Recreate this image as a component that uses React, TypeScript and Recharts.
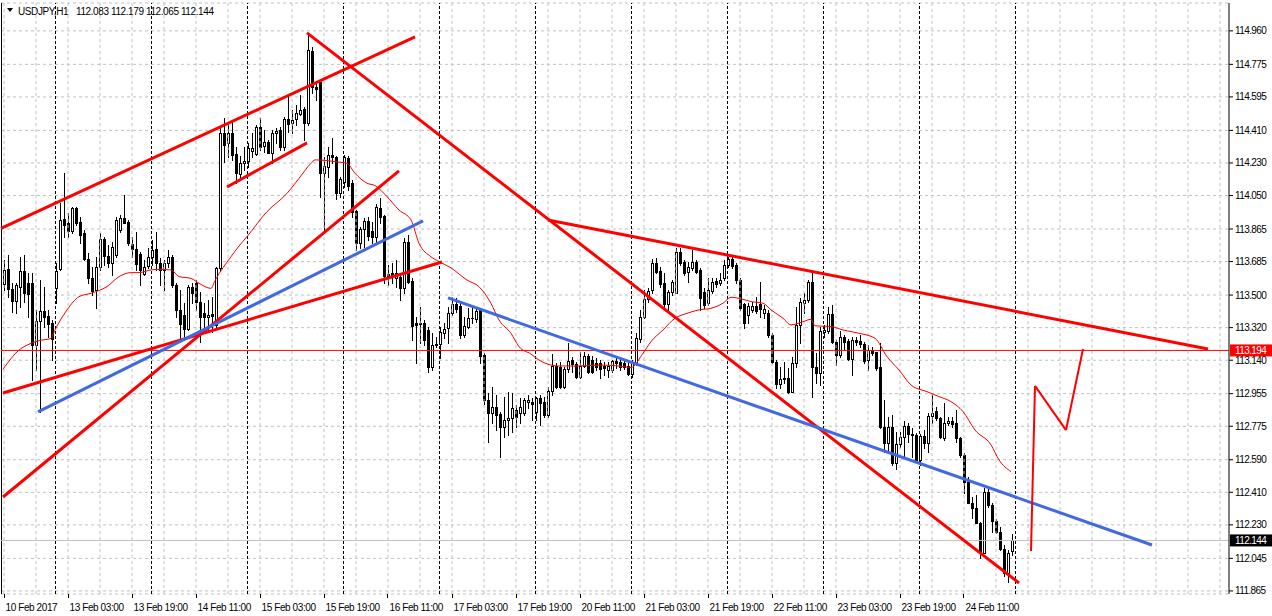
import React from 'react';
import {
  ComposedChart,
  Bar,
  Line,
  XAxis,
  YAxis,
  CartesianGrid,
  ReferenceLine,
} from 'recharts';

// USDJPY H1, one value per hourly bar starting 10 Feb 2017 11:00
const opens = [
  113.559, 113.642, 113.532, 113.469, 113.547, 113.635, 113.565, 113.565, 113.224, 113.357,
  113.412, 113.384, 113.344, 113.537, 113.642, 113.918, 113.896, 113.854, 113.980, 113.906,
  113.841, 113.697, 113.592, 113.528, 113.657, 113.808, 113.716, 113.676, 113.721, 113.860,
  113.924, 113.906, 113.782, 113.753, 113.727, 113.617, 113.662, 113.712, 113.753, 113.676,
  113.639, 113.676, 113.709, 113.556, 113.418, 113.390, 113.312, 113.547, 113.565, 113.464,
  113.403, 113.377, 113.396, 113.334, 113.650, 114.394, 114.339, 114.394, 114.280, 114.169,
  114.232, 114.243, 114.298, 114.280, 114.431, 114.326, 114.344, 114.283, 114.394, 114.412,
  114.320, 114.471, 114.453, 114.471, 114.501, 114.528, 114.453, 114.851, 114.648, 114.679,
  114.177, 114.206, 114.272, 114.261, 114.066, 114.127, 114.259, 114.121, 113.965, 113.790,
  113.863, 113.909, 113.854, 113.819, 113.979, 113.937, 113.615, 113.620, 113.592, 113.598,
  113.541, 113.791, 113.580, 113.344, 113.346, 113.346, 113.307, 113.104, 113.230, 113.227,
  113.288, 113.316, 113.399, 113.450, 113.439, 113.279, 113.325, 113.371, 113.366, 113.417,
  113.168, 112.920, 112.846, 112.883, 112.840, 112.769, 112.809, 112.818, 112.865, 112.846,
  112.846, 112.911, 112.909, 112.855, 112.929, 112.911, 112.837, 112.970, 113.108, 113.100,
  112.994, 113.089, 113.141, 113.119, 113.049, 113.108, 113.163, 113.141, 113.126, 113.122,
  113.108, 113.086, 113.086, 113.135, 113.128, 113.122, 113.108, 113.064, 113.127, 113.256,
  113.381, 113.477, 113.528, 113.676, 113.635, 113.565, 113.451, 113.519, 113.514, 113.740,
  113.685, 113.630, 113.648, 113.685, 113.639, 113.519, 113.455, 113.525, 113.580, 113.565,
  113.597, 113.667, 113.698, 113.667, 113.584, 113.451, 113.390, 113.418, 113.440, 113.451,
  113.399, 113.399, 113.280, 113.132, 113.009, 113.035, 113.040, 112.967, 113.123, 113.335,
  113.458, 113.473, 113.574, 113.101, 113.068, 113.298, 113.302, 113.396, 113.243, 113.169,
  113.267, 113.248, 113.149, 113.252, 113.246, 113.228, 113.141, 113.197, 113.187, 113.101,
  112.773, 112.684, 112.773, 112.570, 112.677, 112.718, 112.777, 112.732, 112.727, 112.589,
  112.721, 112.684, 112.832, 112.861, 112.819, 112.708, 112.791, 112.806, 112.791, 112.708,
  112.616, 112.469, 112.353, 112.321, 112.239, 112.076, 112.414, 112.340, 112.253, 112.193,
  112.095, 111.962, 112.083,
];

const highs = [
  113.694, 113.721, 113.565, 113.565, 113.712, 113.721, 113.620, 113.620, 113.418, 113.583,
  113.547, 113.418, 113.362, 113.676, 114.007, 114.173, 113.952, 113.989, 113.989, 113.933,
  113.860, 113.731, 113.657, 113.712, 113.841, 113.823, 113.777, 113.795, 113.933, 113.943,
  114.053, 113.915, 113.823, 113.851, 113.740, 113.694, 113.758, 113.804, 113.851, 113.703,
  113.694, 113.749, 113.721, 113.565, 113.528, 113.454, 113.556, 113.565, 113.583, 113.519,
  113.454, 113.473, 113.491, 113.655, 114.429, 114.477, 114.458, 114.468, 114.320, 114.269,
  114.320, 114.339, 114.394, 114.440, 114.477, 114.412, 114.357, 114.412, 114.422, 114.431,
  114.482, 114.606, 114.523, 114.550, 114.606, 114.541, 114.947, 114.873, 114.670, 114.689,
  114.265, 114.320, 114.366, 114.269, 114.154, 114.274, 114.269, 114.136, 113.970, 113.878,
  113.924, 113.933, 113.906, 114.003, 114.035, 113.942, 113.666, 113.675, 113.694, 113.620,
  113.814, 113.832, 113.592, 113.381, 113.436, 113.362, 113.325, 113.288, 113.270, 113.325,
  113.344, 113.436, 113.491, 113.482, 113.454, 113.380, 113.426, 113.436, 113.436, 113.426,
  113.178, 112.957, 112.994, 112.948, 112.855, 112.938, 112.966, 112.957, 112.892, 112.929,
  112.929, 112.948, 112.929, 112.938, 112.948, 112.938, 112.994, 113.174, 113.122, 113.131,
  113.104, 113.233, 113.159, 113.131, 113.187, 113.187, 113.174, 113.163, 113.150, 113.141,
  113.131, 113.131, 113.141, 113.150, 113.145, 113.141, 113.131, 113.141, 113.289, 113.418,
  113.528, 113.538, 113.698, 113.703, 113.657, 113.620, 113.528, 113.583, 113.759, 113.759,
  113.694, 113.685, 113.750, 113.694, 113.648, 113.537, 113.593, 113.593, 113.593, 113.620,
  113.694, 113.713, 113.713, 113.676, 113.593, 113.455, 113.455, 113.464, 113.492, 113.574,
  113.445, 113.418, 113.289, 113.141, 113.105, 113.132, 113.095, 113.160, 113.436, 113.482,
  113.510, 113.583, 113.639, 113.178, 113.326, 113.335, 113.436, 113.445, 113.252, 113.303,
  113.279, 113.256, 113.267, 113.267, 113.279, 113.243, 113.224, 113.215, 113.187, 113.233,
  112.920, 112.828, 112.837, 112.745, 112.745, 112.806, 112.795, 112.764, 112.736, 112.732,
  112.754, 112.847, 112.948, 112.883, 112.828, 112.902, 112.828, 112.828, 112.865, 112.718,
  112.626, 112.496, 112.386, 112.395, 112.248, 112.432, 112.427, 112.349, 112.261, 112.220,
  112.119, 112.091, 112.179,
];

const lows = [
  113.528, 113.491, 113.408, 113.399, 113.436, 113.464, 113.381, 113.031, 113.086, 112.854,
  113.325, 113.270, 113.141, 113.454, 113.639, 113.823, 113.823, 113.841, 113.887, 113.786,
  113.694, 113.565, 113.500, 113.427, 113.639, 113.666, 113.657, 113.611, 113.712, 113.851,
  113.897, 113.777, 113.712, 113.639, 113.556, 113.611, 113.648, 113.666, 113.639, 113.556,
  113.528, 113.657, 113.547, 113.381, 113.252, 113.252, 113.307, 113.454, 113.418, 113.243,
  113.307, 113.298, 113.297, 113.322, 113.639, 114.237, 114.265, 114.246, 114.118, 114.145,
  114.191, 114.210, 114.265, 114.274, 114.302, 114.293, 114.283, 114.228, 114.339, 114.302,
  114.302, 114.403, 114.394, 114.440, 114.495, 114.357, 114.440, 114.615, 114.578, 114.044,
  113.860, 114.154, 114.228, 114.029, 114.044, 114.099, 114.081, 113.933, 113.749, 113.758,
  113.767, 113.804, 113.786, 113.786, 113.896, 113.565, 113.556, 113.565, 113.546, 113.473,
  113.510, 113.565, 113.252, 113.123, 113.233, 113.224, 113.077, 113.086, 113.215, 113.150,
  113.261, 113.233, 113.390, 113.408, 113.261, 113.270, 113.316, 113.344, 113.353, 113.122,
  112.898, 112.689, 112.791, 112.754, 112.607, 112.717, 112.726, 112.745, 112.772, 112.791,
  112.837, 112.874, 112.809, 112.809, 112.782, 112.828, 112.828, 112.948, 112.984, 112.984,
  112.984, 113.076, 113.076, 113.040, 113.040, 113.100, 113.071, 113.067, 113.086, 113.040,
  113.058, 113.049, 113.076, 113.095, 113.086, 113.089, 113.058, 113.049, 113.114, 113.243,
  113.372, 113.464, 113.510, 113.620, 113.547, 113.436, 113.418, 113.501, 113.510, 113.667,
  113.611, 113.574, 113.639, 113.620, 113.418, 113.427, 113.445, 113.510, 113.547, 113.556,
  113.584, 113.657, 113.648, 113.565, 113.418, 113.317, 113.344, 113.409, 113.399, 113.381,
  113.372, 113.270, 113.123, 112.985, 112.985, 113.013, 112.957, 112.967, 113.105, 113.233,
  113.399, 113.464, 112.939, 113.012, 113.003, 113.270, 113.289, 113.233, 113.114, 113.160,
  113.197, 113.141, 113.058, 113.224, 113.215, 113.127, 113.086, 113.169, 113.086, 112.764,
  112.635, 112.629, 112.561, 112.537, 112.662, 112.598, 112.690, 112.607, 112.579, 112.561,
  112.653, 112.635, 112.791, 112.810, 112.708, 112.699, 112.782, 112.773, 112.690, 112.607,
  112.404, 112.349, 112.266, 112.239, 112.045, 112.073, 112.331, 112.193, 112.183, 112.091,
  111.947, 111.916, 112.065,
];

const closes = [
  113.639, 113.532, 113.469, 113.556, 113.635, 113.513, 113.504, 113.224, 113.357, 113.412,
  113.381, 113.340, 113.255, 113.633, 113.915, 113.887, 113.854, 113.980, 113.900, 113.832,
  113.697, 113.592, 113.524, 113.657, 113.808, 113.716, 113.676, 113.767, 113.915, 113.924,
  113.900, 113.786, 113.753, 113.672, 113.639, 113.657, 113.709, 113.749, 113.676, 113.639,
  113.676, 113.709, 113.556, 113.418, 113.340, 113.312, 113.547, 113.510, 113.464, 113.381,
  113.381, 113.390, 113.384, 113.650, 114.396, 114.329, 114.394, 114.274, 114.173, 114.228,
  114.243, 114.315, 114.311, 114.431, 114.320, 114.344, 114.287, 114.394, 114.407, 114.320,
  114.471, 114.445, 114.468, 114.504, 114.523, 114.453, 114.854, 114.648, 114.641, 114.177,
  114.213, 114.272, 114.261, 114.066, 114.140, 114.261, 114.103, 113.961, 113.786, 113.863,
  113.909, 113.828, 113.819, 113.985, 113.933, 113.607, 113.602, 113.611, 113.620, 113.541,
  113.791, 113.574, 113.331, 113.333, 113.340, 113.252, 113.104, 113.224, 113.222, 113.297,
  113.310, 113.399, 113.450, 113.421, 113.279, 113.329, 113.371, 113.375, 113.414, 113.163,
  112.920, 112.846, 112.883, 112.837, 112.769, 112.809, 112.818, 112.874, 112.828, 112.883,
  112.920, 112.920, 112.898, 112.929, 112.901, 112.837, 112.970, 113.108, 112.994, 112.994,
  113.089, 113.135, 113.119, 113.049, 113.108, 113.163, 113.076, 113.076, 113.100, 113.089,
  113.095, 113.108, 113.135, 113.122, 113.100, 113.100, 113.063, 113.132, 113.261, 113.381,
  113.477, 113.525, 113.676, 113.630, 113.562, 113.451, 113.519, 113.574, 113.740, 113.676,
  113.624, 113.657, 113.685, 113.630, 113.482, 113.445, 113.528, 113.574, 113.562, 113.584,
  113.667, 113.698, 113.661, 113.584, 113.427, 113.344, 113.440, 113.440, 113.412, 113.422,
  113.422, 113.280, 113.132, 113.009, 113.035, 113.040, 112.967, 113.123, 113.335, 113.464,
  113.473, 113.574, 113.101, 113.071, 113.302, 113.307, 113.396, 113.243, 113.169, 113.267,
  113.243, 113.145, 113.252, 113.243, 113.228, 113.138, 113.197, 113.182, 113.095, 112.773,
  112.684, 112.773, 112.574, 112.677, 112.718, 112.777, 112.732, 112.727, 112.589, 112.721,
  112.684, 112.832, 112.850, 112.819, 112.714, 112.795, 112.806, 112.788, 112.708, 112.616,
  112.469, 112.353, 112.321, 112.239, 112.076, 112.414, 112.340, 112.253, 112.193, 112.095,
  111.962, 112.076, 112.144,
];

// moving average, read at a few bars
const maBars = [
  0, 4, 7, 9, 12, 13, 16, 19, 22, 26, 29, 32, 34, 37, 39, 42, 44, 47, 49, 52,
  53, 57, 59, 61, 66, 71, 74, 77, 78, 81, 83, 86, 88, 91, 93, 96, 99, 102, 104, 107,
  109, 112, 116, 119, 122, 124, 127, 129, 132, 134, 137, 139, 144, 149, 154, 157, 160, 162, 165, 168,
  171, 174, 177, 180, 182, 184, 187, 190, 192, 195, 197, 200, 202, 203, 207, 210, 214, 218, 221, 224,
  227, 231, 234, 237, 240, 243, 247, 249, 252,
];
const maValues = [
  113.090, 113.196, 113.233, 113.248, 113.261, 113.307, 113.418, 113.491, 113.510, 113.547,
  113.602, 113.624, 113.624, 113.639, 113.642, 113.639, 113.602, 113.592, 113.565, 113.537,
  113.580, 113.712, 113.771, 113.823, 113.961, 114.062, 114.145, 114.228, 114.247, 114.243,
  114.237, 114.228, 114.173, 114.118, 114.105, 114.044, 113.970, 113.915, 113.786, 113.712,
  113.685, 113.650, 113.583, 113.546, 113.454, 113.362, 113.288, 113.215, 113.174, 113.141,
  113.113, 113.108, 113.108, 113.113, 113.108, 113.100, 113.178, 113.243, 113.307, 113.372,
  113.399, 113.418, 113.427, 113.455, 113.488, 113.482, 113.464, 113.455, 113.418, 113.372,
  113.335, 113.353, 113.366, 113.330, 113.326, 113.307, 113.289, 113.261, 113.160, 113.086,
  113.003, 112.966, 112.939, 112.911, 112.856, 112.754, 112.672, 112.589, 112.524,
];

const timeLabels = [
  '10 Feb 2017', '13 Feb 03:00', '13 Feb 19:00', '14 Feb 11:00', '15 Feb 03:00', '15 Feb 19:00',
  '16 Feb 11:00', '17 Feb 03:00', '17 Feb 19:00', '20 Feb 11:00', '21 Feb 03:00', '21 Feb 19:00',
  '22 Feb 11:00', '23 Feb 03:00', '23 Feb 19:00', '24 Feb 11:00',
];
const labelBars = timeLabels.map((_, k) => k * 16);

const priceTicks = [
  111.865, 112.045, 112.23, 112.41, 112.59, 112.775, 112.955, 113.14, 113.32,
  113.5, 113.685, 113.865, 114.05, 114.23, 114.41, 114.595, 114.775, 114.96,
];

// first bar of each trading day
const dayStarts = [13, 37, 61, 85, 109, 133, 157, 181, 205, 229, 253];

const RED = '#ff0000';
const BLUE = '#4169e1';

// drawn objects: [bar, price] end points
const trendLines = [
  { a: [-0.5, 113.868], b: [103, 114.927], color: RED, w: 3 },
  { a: [56, 114.097], b: [76, 114.341], color: RED, w: 3 },
  { a: [76, 114.949], b: [254, 111.909], color: RED, w: 3 },
  { a: [0, 112.384], b: [99, 114.186], color: RED, w: 3 },
  { a: [0, 112.959], b: [109.75, 113.683], color: RED, w: 3 },
  { a: [136.25, 113.915], b: [301.25, 113.202], color: RED, w: 3 },
  { a: [8.75, 112.854], b: [105, 113.91], color: BLUE, w: 3 },
  { a: [111.25, 113.484], b: [287.25, 112.119], color: BLUE, w: 3 },
];
const forecastPath = [
  [257, 112.086],
  [258, 112.998],
  [265.75, 112.754],
  [270, 113.202],
];

const levelPrice = 113.194;
const bidPrice = 112.144;

const TOTAL_SLOTS = 307;
const chartData = Array.from({ length: TOTAL_SLOTS }, (_, i) => {
  const has = i < opens.length;
  const mk = maBars.indexOf(i);
  return {
    i,
    o: has ? opens[i] : null,
    h: has ? highs[i] : null,
    l: has ? lows[i] : null,
    c: has ? closes[i] : null,
    range: has ? [lows[i], highs[i]] : null,
    ma: mk >= 0 ? maValues[mk] : null,
  };
});

const FONT = '"Liberation Sans", Arial, sans-serif';

const Candle = (props: any) => {
  const { x, y, width, height, payload } = props;
  if (!payload || payload.o == null || x == null) return null;
  const { o, h, l, c } = payload;
  const span = h - l;
  const k = span > 0 ? Math.abs(height) / span : 0;
  const top = Math.min(y, y + height);
  const py = (v: number) => top + (h - v) * k;
  const cx = Math.round(x + width / 2);
  const bTop = Math.round(py(Math.max(o, c))) + 0.5;
  const bBot = Math.round(py(Math.min(o, c))) + 0.5;
  const bull = c >= o;
  return (
    <g>
      <line x1={cx + 0.5} x2={cx + 0.5} y1={Math.round(py(h))} y2={Math.round(py(l)) + 1} stroke="#000" />
      {bBot - bTop < 1 ? (
        <line x1={cx - 1} x2={cx + 2} y1={bTop} y2={bTop} stroke="#000" />
      ) : (
        <rect x={cx - 0.5} y={bTop} width={2} height={bBot - bTop} fill={bull ? '#fff' : '#000'} stroke="#000" />
      )}
    </g>
  );
};

// time label hung under the plot from a vertical reference line's box
const timeLabel = (text: string) => (p: any) => {
  const vb = p.viewBox || {};
  const bottom = vb.y + vb.height;
  const px = Math.round(vb.x) + 0.5;
  return (
    <g>
      <line x1={px} x2={px} y1={bottom} y2={bottom + 4} stroke="#000" />
      <text x={vb.x + 2} y={bottom + 17} fontSize={10} letterSpacing={-0.4} fill="#000" fontFamily={FONT}>
        {text}
      </text>
    </g>
  );
};

const PriceTick = (props: any) => {
  const { x, y, payload } = props;
  return (
    <text x={x} y={y + 3.5} fontSize={10} letterSpacing={-0.6} fill="#000" fontFamily={FONT}>
      {payload.value.toFixed(3)}
    </text>
  );
};

const priceTag = (value: number, bg: string) => (p: any) => {
  const vb = p.viewBox || {};
  const x = vb.x + vb.width + 1;
  const y = vb.y;
  return (
    <g>
      <rect x={x} y={y - 6} width={43} height={12} fill={bg} />
      <text x={x + 5} y={y + 4} fontSize={10} letterSpacing={-0.6} fill="#fff" fontFamily={FONT}>
        {value.toFixed(3)}
      </text>
    </g>
  );
};

export default function App() {
  const gridBars = Array.from({ length: 39 }, (_, k) => k * 8);
  return (
    <div style={{ position: 'absolute', left: 0, top: 0, width: 1272, height: 616, background: '#fff' }}>
      <ComposedChart
        width={1272}
        height={616}
        data={chartData}
        margin={{ top: 3, right: 0, bottom: 0, left: 1 }}
        style={{ fontFamily: FONT, overflow: 'visible' }}
      >
        <CartesianGrid vertical={false} stroke="#c0c0c0" strokeDasharray="3 3" />
        <XAxis dataKey="i" type="category" hide />
        <XAxis
          xAxisId="num"
          dataKey="i"
          type="number"
          domain={[-0.5, TOTAL_SLOTS - 0.5]}
          allowDataOverflow
          height={22}
          tick={false}
          tickLine={false}
          axisLine={{ stroke: '#000' }}
        />
        <YAxis
          orientation="right"
          domain={[111.848, 115.114]}
          allowDataOverflow
          ticks={priceTicks}
          interval={0}
          width={43}
          tickSize={4}
          tickMargin={2}
          tickLine={{ stroke: '#000' }}
          axisLine={{ stroke: '#000' }}
          tick={<PriceTick />}
        />

        {gridBars.map((b) => (
          <ReferenceLine key={'g' + b} xAxisId="num" x={b + 0.25} stroke="#c0c0c0" strokeDasharray="3 3" ifOverflow="visible" />
        ))}
        {dayStarts.map((b) => (
          <ReferenceLine key={'d' + b} xAxisId="num" x={b + 0.125} stroke="#000" strokeDasharray="3 2" ifOverflow="visible" />
        ))}
        <ReferenceLine xAxisId="num" x={-0.375} stroke="#000" ifOverflow="visible" />
        {labelBars.map((b, k) => (
          <ReferenceLine
            key={'lb' + b}
            xAxisId="num"
            x={b + 0.125}
            stroke="none"
            ifOverflow="visible"
            label={timeLabel(timeLabels[k])}
          />
        ))}

        <ReferenceLine xAxisId="num" y={bidPrice} stroke="#c0c0c0" label={priceTag(bidPrice, '#000')} />
        <ReferenceLine xAxisId="num" y={levelPrice} stroke={RED} label={priceTag(levelPrice, RED)} />

        <Line
          xAxisId="num"
          dataKey="ma"
          type="monotone"
          stroke={RED}
          strokeWidth={1}
          dot={false}
          connectNulls
          isAnimationActive={false}
        />
        <Bar dataKey="range" barSize={3} shape={<Candle />} isAnimationActive={false} />

        {trendLines.map((t, k) => (
          <ReferenceLine
            key={'t' + k}
            xAxisId="num"
            segment={[{ x: t.a[0], y: t.a[1] }, { x: t.b[0], y: t.b[1] }]}
            stroke={t.color}
            strokeWidth={t.w}
            ifOverflow="visible"
          />
        ))}
        {forecastPath.slice(1).map((p, k) => (
          <ReferenceLine
            key={'f' + k}
            xAxisId="num"
            segment={[{ x: forecastPath[k][0], y: forecastPath[k][1] }, { x: p[0], y: p[1] }]}
            stroke={RED}
            strokeWidth={2}
            ifOverflow="visible"
          />
        ))}
      </ComposedChart>

      <svg style={{ position: 'absolute', left: 0, top: 0 }} width={240} height={20}>
        <polygon points="7,8 13,8 10,12" fill="#000" />
        <text x={18} y={15} fontSize={10} letterSpacing={-0.4} fill="#000" fontFamily={FONT}>
          USDJPY,H1
        </text>
        <text x={76} y={15} fontSize={10} letterSpacing={-0.4} fill="#000" fontFamily={FONT}>
          112.083 112.179 112.065 112.144
        </text>
      </svg>
    </div>
  );
}
